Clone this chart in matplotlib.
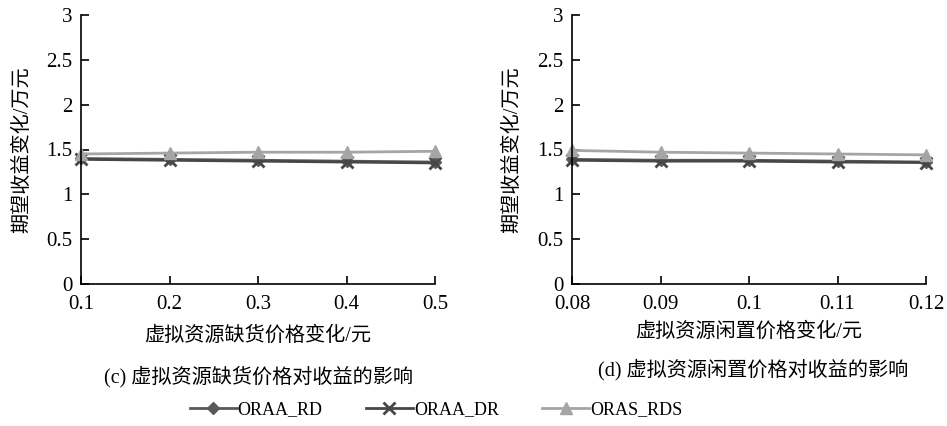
import matplotlib
matplotlib.use("Agg")
import matplotlib.pyplot as plt
from matplotlib.lines import Line2D

plt.rcParams['font.family'] = ['Liberation Serif', 'Noto Sans CJK SC', 'DejaVu Sans']
plt.rcParams['font.size'] = 12

# (c) 缺货价格
x_c = [0.1, 0.2, 0.3, 0.4, 0.5]
x_c_labels = ['0.1', '0.2', '0.3', '0.4', '0.5']
rd_c = [1.40, 1.39, 1.38, 1.37, 1.36]
dr_c = [1.39, 1.38, 1.37, 1.36, 1.35]
rds_c = [1.45, 1.46, 1.47, 1.47, 1.48]

# (d) 闲置价格
x_d = [0.08, 0.09, 0.10, 0.11, 0.12]
x_d_labels = ['0.08', '0.09', '0.1', '0.11', '0.12']
rd_d = [1.39, 1.38, 1.38, 1.37, 1.36]
dr_d = [1.38, 1.37, 1.37, 1.36, 1.355]
rds_d = [1.49, 1.47, 1.46, 1.45, 1.44]

names = ['ORAA_RD', 'ORAA_DR', 'ORAS_RDS']
colors = ['#5a5a5a', '#474747', '#a5a5a5']
markers = ['D', 'x', '^']
msizes = [6, 8, 9]

fig = plt.figure(figsize=(9.47, 4.26), dpi=100)
ax1 = fig.add_axes([81/947, 1-284/426, 354/947, 269/426])
ax2 = fig.add_axes([572/947, 1-284/426, 354/947, 269/426])


def draw(ax, xs, series, xlabels, xlabel, ylab_x, xlab_y):
    for ys, c, m, s in zip(series, colors, markers, msizes):
        ax.plot(xs, ys, color=c, marker=m, markersize=s, linewidth=2,
                markeredgewidth=2 if m == 'x' else 1, clip_on=False)
    ax.set_xlim(xs[0], xs[-1])
    ax.set_ylim(0, 3)
    ax.set_xticks(xs)
    ax.set_xticklabels(xlabels)
    ax.set_yticks([0, 0.5, 1, 1.5, 2, 2.5, 3])
    ax.set_yticklabels(['0', '0.5', '1', '1.5', '2', '2.5', '3'])
    ax.spines['top'].set_visible(False)
    ax.spines['right'].set_visible(False)
    for sp in ('left', 'bottom'):
        ax.spines[sp].set_linewidth(1.2)
    ax.tick_params(direction='in', length=6, width=1.2, labelsize=15, pad=6)
    ax.tick_params(axis='x', pad=8)
    ax.set_ylabel('期望收益变化/万元', fontsize=14.5)
    ax.yaxis.set_label_coords(ylab_x, 0.5)
    ax.set_xlabel(xlabel, fontsize=14.5)
    ax.xaxis.set_label_coords(0.5, xlab_y)


draw(ax1, x_c, [rd_c, dr_c, rds_c], x_c_labels,
     '虚拟资源缺货价格变化/元', -0.138, -0.156)
draw(ax2, x_d, [rd_d, dr_d, rds_d], x_d_labels,
     '虚拟资源闲置价格变化/元', -0.141, -0.141)

fig.text(258/947, 1-377/426, '(c) 虚拟资源缺货价格对收益的影响', ha='center', va='center', fontsize=14.5)
fig.text(753/947, 1-370/426, '(d) 虚拟资源闲置价格对收益的影响', ha='center', va='center', fontsize=14.5)

handles = [Line2D([], [], color=c, marker=m, markersize=s, linewidth=2,
                  markeredgewidth=2 if m == 'x' else 1)
           for c, m, s in zip(colors, markers, msizes)]
fig.legend(handles, names, loc='center', bbox_to_anchor=(436/947, 1-410/426),
           ncol=3, frameon=False, fontsize=13, handlelength=2.6,
           handletextpad=0.05, columnspacing=2.4)

fig.savefig('out.png', dpi=100)
